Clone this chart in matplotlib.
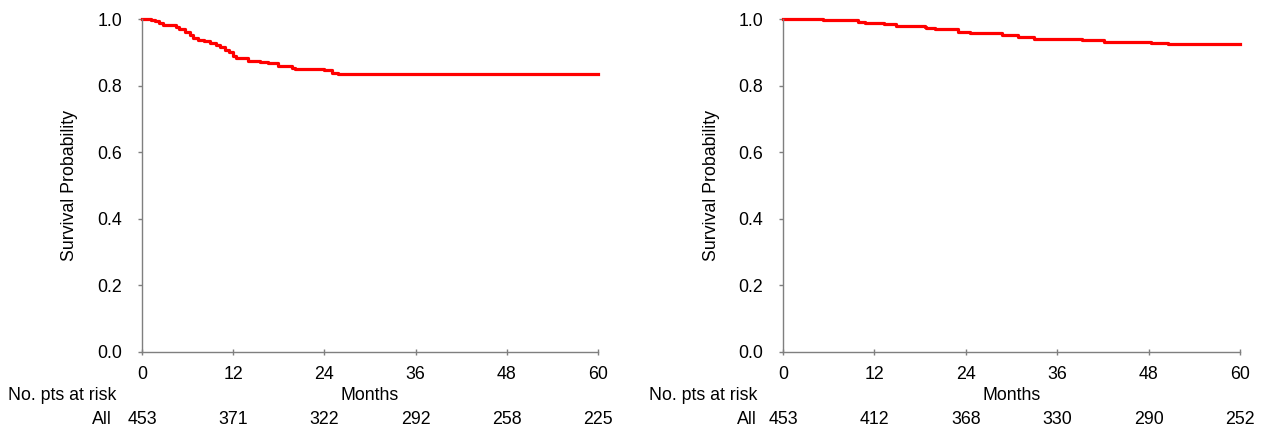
import matplotlib
matplotlib.use("Agg")
import matplotlib.pyplot as plt
from matplotlib.transforms import blended_transform_factory

plt.rcParams['font.family'] = ['Liberation Sans', 'DejaVu Sans']

# Panel A (left)
time_a = [0, 1.2, 1.7, 2.3, 2.8, 4.5, 4.9, 5.6, 6.3, 6.7, 7.4, 8.2, 8.9, 9.8, 10.2,
          10.9, 11.5, 12.0, 12.4, 14.0, 15.5, 16.6, 17.9, 19.7, 20.1, 23.9, 25.0, 25.8, 60]
surv_a = [1.0, 0.998, 0.993, 0.988, 0.983, 0.977, 0.970, 0.962, 0.953, 0.943, 0.937,
          0.933, 0.927, 0.923, 0.915, 0.907, 0.900, 0.890, 0.883, 0.875, 0.872, 0.867,
          0.860, 0.854, 0.849, 0.846, 0.839, 0.836, 0.836]

# Panel B (right)
time_b = [0, 2.4, 5.3, 9.9, 10.8, 13.2, 14.9, 18.6, 18.8, 19.9, 23.0, 24.5, 28.8,
          30.8, 32.9, 39.3, 42.2, 48.3, 50.5, 60]
surv_b = [1.0, 0.999, 0.997, 0.992, 0.987, 0.984, 0.979, 0.976, 0.972, 0.969, 0.962,
          0.957, 0.951, 0.947, 0.939, 0.936, 0.932, 0.927, 0.924, 0.924]

risk_times = [0, 12, 24, 36, 48, 60]
risk_a = [453, 371, 322, 292, 258, 225]
risk_b = [453, 412, 368, 330, 290, 252]
y_ticks = [0.0, 0.2, 0.4, 0.6, 0.8, 1.0]

W, H = 1262, 434
fig = plt.figure(figsize=(W / 100, H / 100), dpi=100)

panels = [
    (142, 598, time_a, surv_a, risk_a, 8, 112, 70),
    (783, 1240, time_b, surv_b, risk_b, 649, 757, 711),
]
top_px, bot_px = 19, 352
fs = 12.8
spine_c = '#7f7f7f'

for (x0, x1, t, s, risk, lab_x, all_x, yl_x) in panels:
    ax = fig.add_axes([x0 / W, 1 - bot_px / H, (x1 - x0) / W, (bot_px - top_px) / H])
    line, = ax.step(t, s, where='post', color='#ff0000', lw=2.3)
    line.set_clip_on(False)
    ax.set_xlim(0, 60)
    ax.set_ylim(0, 1.0)
    ax.set_xticks(risk_times)
    ax.set_yticks(y_ticks)
    ax.set_yticklabels([f"{v:.1f}" for v in y_ticks])
    for sp in ['top', 'right']:
        ax.spines[sp].set_visible(False)
    for sp in ['left', 'bottom']:
        ax.spines[sp].set_color(spine_c)
        ax.spines[sp].set_linewidth(1.0)
    ax.tick_params(axis='x', direction='inout', length=5, width=1, color=spine_c,
                   pad=7.5, labelsize=fs, labelcolor='black')
    ax.tick_params(axis='y', direction='out', length=3.2, width=1, color=spine_c,
                   pad=11, labelsize=fs, labelcolor='black')

    tr = blended_transform_factory(ax.transData, ax.transAxes)
    ax.text(30, (bot_px - 396) / (bot_px - top_px), "Months", transform=tr,
            ha='center', va='center', fontsize=fs)
    for rt, rv in zip(risk_times, risk):
        ax.text(rt, (bot_px - 420) / (bot_px - top_px), str(rv), transform=tr,
                ha='center', va='center', fontsize=fs)
    fig.text(lab_x / W, 1 - 396 / H, "No. pts at risk", ha='left', va='center', fontsize=fs)
    fig.text(all_x / W, 1 - 420 / H, "All", ha='right', va='center', fontsize=fs)
    fig.text(yl_x / W, 1 - 185.5 / H, "Survival Probability", rotation=90,
             ha='center', va='center', fontsize=fs)

fig.savefig("out.png", dpi=100)
